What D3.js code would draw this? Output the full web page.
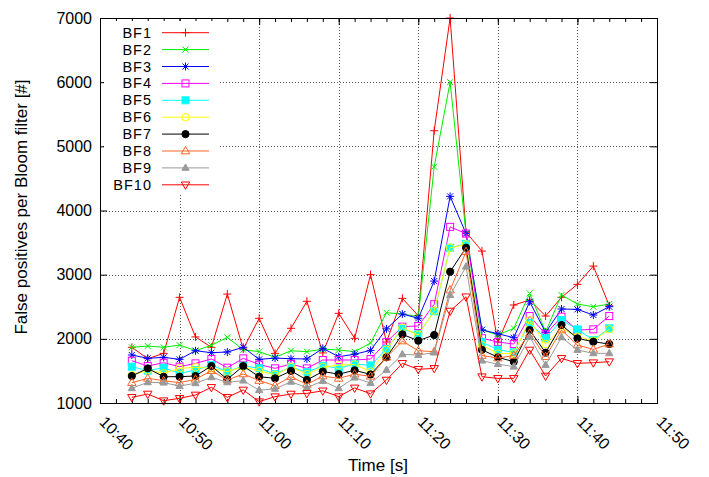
<!DOCTYPE html>
<html>
<head>
<meta charset="utf-8">
<script src="https://cdn.jsdelivr.net/npm/d3@7"></script>
<style>
  body { margin: 0; background: #fff; }
  text { font-family: "Liberation Sans", Arial, Helvetica, sans-serif; }
</style>
</head>
<body>
<svg id="chart" width="709" height="477"></svg>
<script>
// Sample times (every two minutes)
const times = ["10:44","10:46","10:48","10:50","10:52","10:54","10:56","10:58",
  "11:00","11:02","11:04","11:06","11:08","11:10","11:12","11:14","11:16","11:18",
  "11:20","11:22","11:24","11:26","11:28","11:30","11:32","11:34","11:36","11:38",
  "11:40","11:42","11:44"];

// False positives per Bloom filter
const bf1  = [1868,1690,1774,2647,2030,1868,2698,1840,2320,1774,2164,2585,1780,2397,2008,3000,1950,2631,2360,5243,7000,3660,3368,1950,2527,2605,2355,2647,2849,3134,2516];
const bf2  = [1868,1888,1868,1904,1815,1899,2023,1830,1800,1712,1815,1800,1840,1826,1800,1935,2407,2387,2345,4682,6000,3640,2140,2060,2164,2709,2111,2683,2542,2500,2542];
const bf3  = [1748,1696,1712,1680,1815,1784,1795,1868,1680,1700,1690,1686,1852,1722,1760,1820,2155,2387,2320,2900,4220,3640,2140,2080,2018,2578,2100,2465,2459,2371,2501];
const bf4  = [1659,1576,1628,1566,1618,1686,1550,1696,1600,1540,1608,1540,1670,1670,1670,1685,1950,2190,2200,2540,3745,3640,2010,1950,1919,2355,2070,2345,2137,2148,2355];
const bf5  = [1566,1504,1550,1462,1514,1590,1488,1580,1540,1450,1560,1480,1580,1540,1610,1585,1840,2160,2070,2430,3420,3480,1950,1830,1790,2250,2008,2293,2148,1980,2164];
const bf6  = [1430,1514,1462,1540,1556,1540,1488,1566,1500,1440,1560,1450,1560,1590,1600,1490,1830,2173,2060,2440,3420,3470,1900,1770,1770,2290,1919,2164,2033,1971,2148];
const bf7  = [1421,1540,1410,1410,1421,1576,1369,1576,1410,1384,1500,1360,1490,1450,1510,1445,1712,2070,1971,2060,3046,3420,1830,1712,1644,2137,1784,2215,2008,1955,1919];
const bf8  = [1317,1384,1348,1317,1369,1504,1358,1452,1350,1270,1410,1290,1420,1384,1450,1415,1712,1966,1815,1800,2760,3357,1740,1700,1740,2085,1722,2137,1904,1836,1919];
const bf9  = [1229,1322,1317,1265,1307,1400,1322,1348,1200,1220,1330,1240,1343,1229,1395,1310,1514,1758,1748,1785,2683,3124,1660,1605,1566,2033,1592,2023,1826,1774,1774];
const bf10 = [1088,1140,1036,1073,1125,1244,1088,1203,1021,1099,1140,1150,1190,1099,1235,1145,1358,1618,1525,1540,2433,2656,1410,1384,1384,1826,1421,1696,1618,1628,1644];

const seriesNames  = ["BF1","BF2","BF3","BF4","BF5","BF6","BF7","BF8","BF9","BF10"];
const seriesValues = [bf1, bf2, bf3, bf4, bf5, bf6, bf7, bf8, bf9, bf10];
const seriesColors = ["#ff0000","#00ee00","#0000ff","#ff00ff","#00ffff","#ffff00","#000000","#ff6424","#9a9a9a","#ff0000"];
const markerTypes  = ["plus","cross","star","squareOpen","squareFilled","circleOpen","circleFilled","triangleOpen","triangleFilled","triangleDownOpen"];

// Axis ticks
const xTickLabels = ["10:40","10:50","11:00","11:10","11:20","11:30","11:40","11:50"];
const yTicks = [1000,2000,3000,4000,5000,6000,7000];

const parseTime = d3.timeParse("%H:%M");
const fmtTime = d3.timeFormat("%H:%M");

const margin = { left: 100, right: 657, top: 18, bottom: 403 };
const svg = d3.select("#chart");

const x = d3.scaleTime()
  .domain([parseTime(xTickLabels[0]), parseTime(xTickLabels[xTickLabels.length - 1])])
  .range([margin.left, margin.right]);
const y = d3.scaleLinear()
  .domain([yTicks[0], yTicks[yTicks.length - 1]])
  .range([margin.bottom, margin.top]);

const xMajor = xTickLabels.map(parseTime);
const xMinor = d3.timeMinute.every(2).range(x.domain()[0], d3.timeMinute.offset(x.domain()[1], 1));

// Dotted grid
const grid = svg.append("g").attr("stroke", "#555").attr("stroke-width", 1).attr("stroke-dasharray", "1,2");
grid.selectAll("line.gx").data(xMajor.slice(1, -1)).join("line")
  .attr("x1", d => Math.round(x(d)) + 0.5).attr("x2", d => Math.round(x(d)) + 0.5)
  .attr("y1", margin.top).attr("y2", margin.bottom);
grid.selectAll("line.gy").data(yTicks.slice(1, -1)).join("line")
  .attr("y1", d => Math.round(y(d)) + 0.5).attr("y2", d => Math.round(y(d)) + 0.5)
  .attr("x1", margin.left).attr("x2", margin.right);

// Axes with inward (mirrored) ticks
function styleAxis(g) {
  g.select(".domain").remove();
  g.selectAll("line").attr("stroke", "#000");
}
svg.append("g").attr("transform", `translate(0,${margin.bottom})`)
  .call(d3.axisBottom(x).tickValues(xMinor).tickSize(-4).tickFormat(""))
  .call(styleAxis);
svg.append("g").attr("transform", `translate(0,${margin.top})`)
  .call(d3.axisTop(x).tickValues(xMinor).tickSize(-4).tickFormat(""))
  .call(styleAxis);
svg.append("g").attr("transform", `translate(0,${margin.top})`)
  .call(d3.axisTop(x).tickValues(xMajor).tickSize(-7).tickFormat(""))
  .call(styleAxis);
const xAxis = svg.append("g").attr("transform", `translate(0,${margin.bottom})`)
  .call(d3.axisBottom(x).tickValues(xMajor).tickSize(-7).tickFormat(fmtTime))
  .call(styleAxis);
xAxis.selectAll("text")
  .attr("x", 0).attr("y", 0).attr("dy", 0)
  .attr("text-anchor", "start")
  .attr("transform", "translate(-2,20) rotate(45)")
  .attr("font-size", 16).attr("fill", "#000")
  .style("font-family", "'Liberation Sans', Arial, sans-serif");

const yAxis = svg.append("g").attr("transform", `translate(${margin.left},0)`)
  .call(d3.axisLeft(y).tickValues(yTicks).tickSize(-7).tickPadding(8).tickFormat(d3.format("d")))
  .call(styleAxis);
yAxis.selectAll("text").attr("font-size", 16).attr("fill", "#000")
  .style("font-family", "'Liberation Sans', Arial, sans-serif");
svg.append("g").attr("transform", `translate(${margin.right},0)`)
  .call(d3.axisRight(y).tickValues(yTicks).tickSize(-7).tickFormat(""))
  .call(styleAxis);

// Markers
function drawMarker(g, type, color) {
  const s = 4;
  const stroke = { fill: "none", stroke: color, "stroke-width": 1 };
  const fill = { fill: color, stroke: color, "stroke-width": 1 };
  const apply = (el, attrs) => { for (const k in attrs) el.attr(k, attrs[k]); return el; };
  switch (type) {
    case "plus": apply(g.append("path").attr("d", `M${-s},0H${s}M0,${-s}V${s}`), stroke); break;
    case "cross": apply(g.append("path").attr("d", `M-3,-3L3,3M-3,3L3,-3`), stroke); break;
    case "star": apply(g.append("path").attr("d", `M${-s},0H${s}M0,${-s}V${s}M-3,-3L3,3M-3,3L3,-3`), stroke); break;
    case "squareOpen": apply(g.append("rect").attr("x", -3.5).attr("y", -3.5).attr("width", 7).attr("height", 7), stroke); break;
    case "squareFilled": apply(g.append("rect").attr("x", -3.5).attr("y", -3.5).attr("width", 7).attr("height", 7), fill); break;
    case "circleOpen": apply(g.append("circle").attr("r", 3.8), stroke); break;
    case "circleFilled": apply(g.append("circle").attr("r", 3.6), fill); break;
    case "triangleOpen": apply(g.append("path").attr("d", "M0,-4.5L4.2,2.8L-4.2,2.8Z"), stroke); break;
    case "triangleFilled": apply(g.append("path").attr("d", "M0,-4L3.6,2.4L-3.6,2.4Z"), fill); break;
    case "triangleDownOpen": apply(g.append("path").attr("d", "M0,4.5L4.2,-2.8L-4.2,-2.8Z"), stroke); break;
  }
}

// Series lines and points
const line = d3.line().x(d => x(d.t)).y(d => y(d.v));
seriesValues.forEach((vals, i) => {
  const pts = vals.map((v, j) => ({ t: parseTime(times[j]), v }));
  const g = svg.append("g");
  g.append("path").datum(pts).attr("d", line)
    .attr("fill", "none").attr("stroke", seriesColors[i]).attr("stroke-width", 1);
  pts.forEach(p => {
    const m = g.append("g").attr("transform", `translate(${x(p.t)},${y(p.v)})`);
    drawMarker(m, markerTypes[i], seriesColors[i]);
  });
});

// Legend (opaque box without border)
const legend = svg.append("g");
legend.append("rect").attr("x", 104).attr("y", 21).attr("width", 114).attr("height", 173).attr("fill", "#fff");
seriesNames.forEach((name, i) => {
  const cy = 32.7 + i * 16.9;
  legend.append("text").attr("x", 152).attr("y", cy + 5)
    .attr("text-anchor", "end").attr("font-size", 14.5).attr("letter-spacing", 1)
    .attr("fill", "#000").text(name);
  legend.append("line").attr("x1", 162).attr("x2", 209).attr("y1", cy).attr("y2", cy)
    .attr("stroke", seriesColors[i]).attr("stroke-width", 1);
  const m = legend.append("g").attr("transform", `translate(185.5,${cy})`);
  drawMarker(m, markerTypes[i], seriesColors[i]);
});

// Frame
svg.append("rect").attr("x", margin.left + 0.5).attr("y", margin.top + 0.5)
  .attr("width", margin.right - margin.left).attr("height", margin.bottom - margin.top)
  .attr("fill", "none").attr("stroke", "#000").attr("stroke-width", 1);

// Axis titles
svg.append("text").attr("x", 378).attr("y", 471).attr("text-anchor", "middle")
  .attr("font-size", 17).attr("fill", "#000").text("Time [s]");
svg.append("text").attr("transform", "translate(27,207) rotate(-90)").attr("text-anchor", "middle")
  .attr("font-size", 17).attr("fill", "#000").text("False positives per Bloom filter [#]");
</script>
</body>
</html>
